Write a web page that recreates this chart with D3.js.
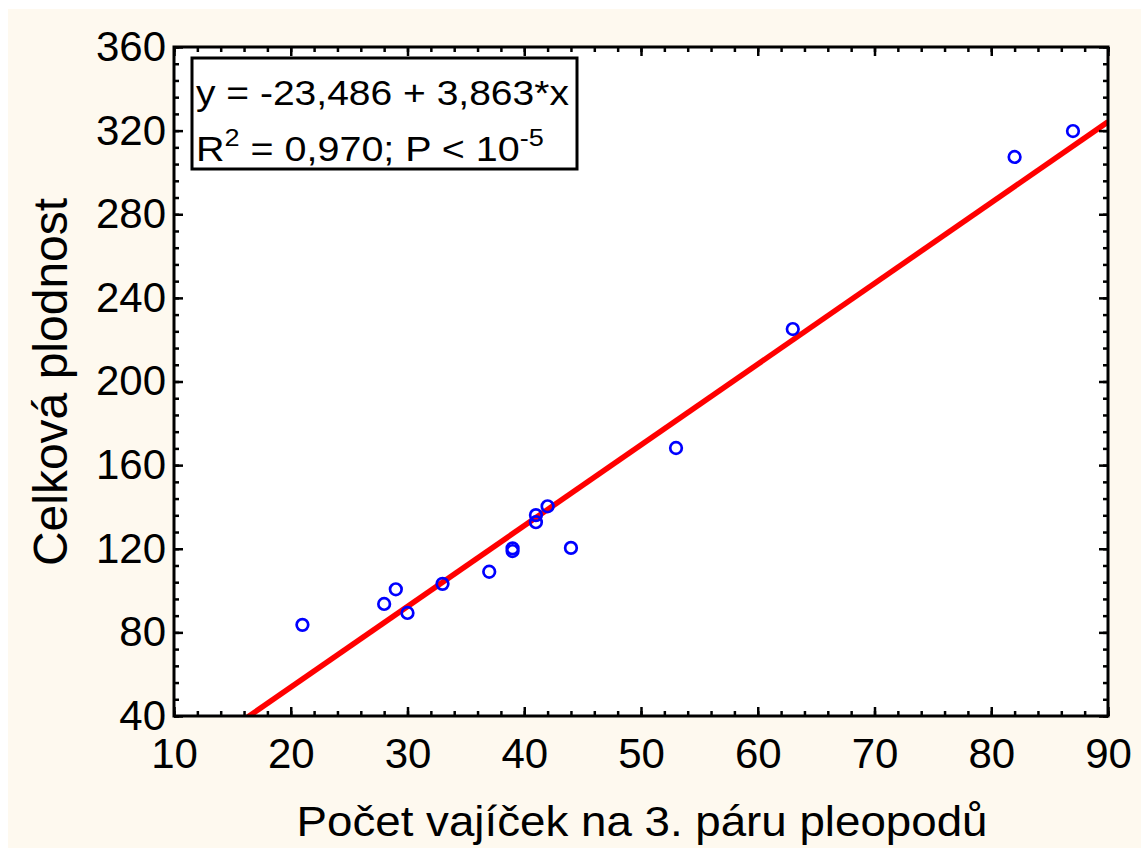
<!DOCTYPE html>
<html lang="cs">
<head>
<meta charset="UTF-8">
<title>plodnost</title>
<script src="https://cdn.jsdelivr.net/npm/d3@7"></script>
<style>
  body { margin: 0; background: #fff; }
  text { font-family: "Liberation Sans", Arial, sans-serif; fill: #000; }
</style>
</head>
<body>
<script>
// values
const eggs = [21, 28, 29, 30, 33, 37, 39, 39, 41, 41, 42, 44, 53, 63, 82, 87]
const fecundity = [83.6, 93.6, 100.6, 89.3, 103.2, 109.0, 120.2, 118.9, 136.1, 132.7, 140.3, 120.4, 168.2, 225.1, 307.4, 319.8]

const xTicks = [10, 20, 30, 40, 50, 60, 70, 80, 90]
const yTicks = [40, 80, 120, 160, 200, 240, 280, 320, 360]
const xMinor = d3.range(10, 91, 2)
const yMinor = d3.range(40, 361, 8)

const intercept = -23.486
const slope = 3.863

const xTitle = 'Počet vajíček na 3. páru pleopodů'
const yTitle = 'Celková plodnost'

const W = 1141, H = 848
const plot = { left: 174, top: 47, right: 1108, bottom: 716 }

const svg = d3.select('body').append('svg')
  .attr('width', W)
  .attr('height', H)

svg.append('rect')
  .attr('x', 8).attr('y', 9)
  .attr('width', W - 8).attr('height', H - 9)
  .attr('fill', '#fef9ef')

svg.append('rect')
  .attr('x', plot.left).attr('y', plot.top)
  .attr('width', plot.right - plot.left).attr('height', plot.bottom - plot.top)
  .attr('fill', '#fff')

const x = d3.scaleLinear().domain([10, 90]).range([plot.left, plot.right])
const y = d3.scaleLinear().domain([40, 360]).range([plot.bottom, plot.top])

svg.append('clipPath').attr('id', 'clip')
  .append('rect')
  .attr('x', plot.left).attr('y', plot.top)
  .attr('width', plot.right - plot.left).attr('height', plot.bottom - plot.top)

// regression line
const xs = [10, 90]
svg.append('path')
  .attr('clip-path', 'url(#clip)')
  .attr('d', d3.line().x(d => x(d)).y(d => y(intercept + slope * d))(xs))
  .attr('stroke', '#ff0000')
  .attr('stroke-width', 5.5)
  .attr('fill', 'none')

// points
svg.selectAll('circle.pt')
  .data(eggs)
  .enter()
  .append('circle')
  .attr('class', 'pt')
  .attr('cx', d => x(d))
  .attr('cy', (d, i) => y(fecundity[i]))
  .attr('r', 5.8)
  .attr('fill', 'none')
  .attr('stroke', '#0000ff')
  .attr('stroke-width', 2.7)

// axes: ticks point inward on all four sides
function styleAxis(g) {
  g.select('.domain').remove()
  g.selectAll('.tick line').attr('stroke', '#000').attr('stroke-width', 2.5)
  g.selectAll('.tick text').style('font-size', '42px').attr('fill', '#000')
}

const fmt = d3.format('d')

svg.append('g')
  .attr('transform', `translate(0,${plot.bottom})`)
  .call(d3.axisBottom(x).tickValues(xMinor).tickSize(-5).tickFormat(''))
  .call(styleAxis)
svg.append('g')
  .attr('transform', `translate(0,${plot.bottom})`)
  .call(d3.axisBottom(x).tickValues(xTicks).tickSize(-9).tickPadding(22).tickFormat(fmt))
  .call(styleAxis)

svg.append('g')
  .attr('transform', `translate(0,${plot.top})`)
  .call(d3.axisTop(x).tickValues(xMinor).tickSize(-5).tickFormat(''))
  .call(styleAxis)
svg.append('g')
  .attr('transform', `translate(0,${plot.top})`)
  .call(d3.axisTop(x).tickValues(xTicks).tickSize(-9).tickFormat(''))
  .call(styleAxis)

svg.append('g')
  .attr('transform', `translate(${plot.left},0)`)
  .call(d3.axisLeft(y).tickValues(yMinor).tickSize(-5).tickFormat(''))
  .call(styleAxis)
svg.append('g')
  .attr('transform', `translate(${plot.left},0)`)
  .call(d3.axisLeft(y).tickValues(yTicks).tickSize(-9).tickPadding(8).tickFormat(fmt))
  .call(styleAxis)

svg.append('g')
  .attr('transform', `translate(${plot.right},0)`)
  .call(d3.axisRight(y).tickValues(yMinor).tickSize(-5).tickFormat(''))
  .call(styleAxis)
svg.append('g')
  .attr('transform', `translate(${plot.right},0)`)
  .call(d3.axisRight(y).tickValues(yTicks).tickSize(-9).tickFormat(''))
  .call(styleAxis)

// frame
svg.append('rect')
  .attr('x', plot.left).attr('y', plot.top)
  .attr('width', plot.right - plot.left).attr('height', plot.bottom - plot.top)
  .attr('fill', 'none')
  .attr('stroke', '#000')
  .attr('stroke-width', 3)

// axis titles
const xt = svg.append('text')
  .attr('x', 642).attr('y', 836)
  .attr('text-anchor', 'middle')
  .style('font-size', '42px')
  .text(xTitle)
xt.attr('textLength', 691).attr('lengthAdjust', 'spacingAndGlyphs')

svg.append('text')
  .attr('transform', 'translate(67,382) rotate(-90)')
  .attr('text-anchor', 'middle')
  .style('font-size', '48px')
  .text(yTitle)

// equation box
svg.append('rect')
  .attr('x', 192).attr('y', 58)
  .attr('width', 385).attr('height', 111)
  .attr('fill', '#fff')
  .attr('stroke', '#000')
  .attr('stroke-width', 3)

function fitWidth(sel, left, base, target) {
  const w = sel.node().getComputedTextLength()
  sel.attr('transform', `translate(${left},${base}) scale(${target / w},1)`)
}

const eq1 = svg.append('text')
  .style('font-size', '35px')
  .text(`y = ${String(intercept).replace('.', ',')} + ${String(slope).replace('.', ',')}*x`)
fitWidth(eq1, 196, 105, 373)

const eq2 = svg.append('text').style('font-size', '35px')
eq2.append('tspan').text('R')
eq2.append('tspan').attr('dy', -15).style('font-size', '24px').text('2')
eq2.append('tspan').attr('dy', 15).text(' = 0,970; P < 10')
eq2.append('tspan').attr('dy', -15).style('font-size', '24px').text('-5')
fitWidth(eq2, 196, 161, 348)
</script>
</body>
</html>
